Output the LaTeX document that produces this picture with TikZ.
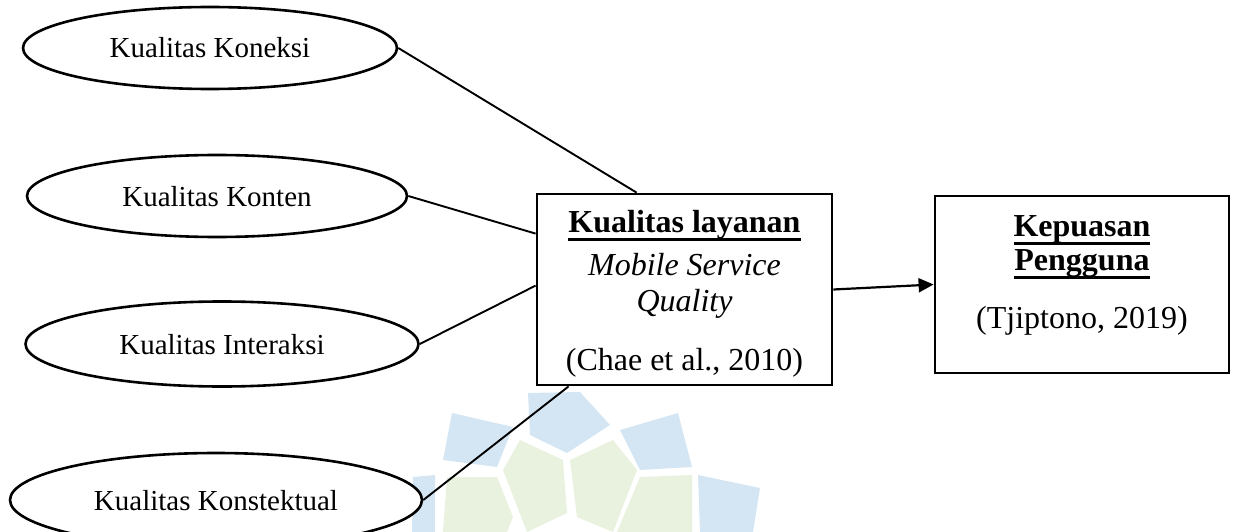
\documentclass[tikz,border=0pt]{standalone}
\usepackage{fontspec}
\setmainfont{Liberation Serif}
\usetikzlibrary{shapes.geometric,arrows.meta}

\definecolor{wmbiru}{HTML}{D4E6F4}
\definecolor{wmhijau}{HTML}{E9F1DF}

\newsavebox\garisbox
\newcommand{\garis}[1]{\sbox\garisbox{#1}\rlap{\rule[-9pt]{\wd\garisbox}{3pt}}\usebox\garisbox}

\tikzset{
  dimensi/.style={draw, ellipse, fill=white, line width=2.6pt, inner sep=0pt,
    text height=20pt, text depth=0pt, font=\fontsize{29}{34}\selectfont},
  kotak/.style={draw, rectangle, line width=2.8pt, inner sep=0pt},
  isikotak/.style={align=center, anchor=north, inner sep=0pt},
  hubung/.style={line width=1.9pt},
}

\begin{document}
\begin{tikzpicture}[x=1pt, y=-1pt]
    \useasboundingbox (0,0) rectangle (1237,532);

    \fill[wmbiru] (452,413) -- (513,427) -- (497,467) -- (443,460) -- cycle;
    \fill[wmbiru] (528,393) -- (580,392) -- (610,425) -- (567,453) -- (530,435) -- cycle;
    \fill[wmbiru] (620,430) -- (678,413) -- (692,467) -- (640,470) -- cycle;
    \fill[wmbiru] (698,475) -- (760,488) -- (753,532) -- (700,532) -- cycle;
    \fill[wmbiru] (413,477) -- (435,475) -- (435,532) -- (412,532) -- cycle;
    \fill[wmhijau] (520,440) -- (563,460) -- (567,513) -- (527,532) -- (503,470) -- cycle;
    \fill[wmhijau] (570,460) -- (613,440) -- (637,470) -- (613,532) -- (577,517) -- cycle;
    \fill[wmhijau] (447,477) -- (497,477) -- (513,517) -- (507,532) -- (443,532) -- cycle;
    \fill[wmhijau] (640,477) -- (692,475) -- (692,532) -- (617,532) -- cycle;

    \node[dimensi, minimum width=374pt, minimum height=82pt] (koneksi) at (210,48) {Kualitas Koneksi};
    \node[dimensi, minimum width=380pt, minimum height=82pt] (konten) at (217,196) {Kualitas Konten};
    \node[dimensi, minimum width=393pt, minimum height=85pt] (interaksi) at (222,344) {Kualitas Interaksi};
    \node[dimensi, minimum width=412pt, minimum height=94pt] (kontekstual) at (216,500) {Kualitas Konstektual};

    \node[kotak, minimum width=295pt, minimum height=191pt] (layanan) at (684.5,289.5) {};
    \node[kotak, minimum width=294pt, minimum height=177pt] (kepuasan) at (1082,284.5) {};

    \node[isikotak, font=\fontsize{32}{36}\selectfont] (layanan-isi) at (684.5,208)
      {\rule{0pt}{24pt}\garis{\textbf{Kualitas layanan}}\\[7pt]
       \textit{Mobile Service}\\ \textit{Quality}\\[23pt]
       (Chae et al., 2010)};
    \node[isikotak, font=\fontsize{32}{34}\selectfont] (kepuasan-isi) at (1082,212)
      {\rule{0pt}{24pt}\garis{\textbf{Kepuasan}}\\
       \garis{\textbf{Pengguna}}\\[24pt]
       (Tjiptono, 2019)};

    \coordinate (masuk-a) at ([xshift=101pt]layanan.north west);
    \coordinate (masuk-b) at ([yshift=-41pt]layanan.north west);
    \coordinate (masuk-c) at ([yshift=-93pt]layanan.north west);
    \coordinate (masuk-d) at ([xshift=33pt]layanan.south west);

    \draw[hubung] (koneksi.east) -- (masuk-a);
    \draw[hubung] (konten.east) -- (masuk-b);
    \draw[hubung] (interaksi.east) -- (masuk-c);
    \draw[hubung] (kontekstual.east) -- (masuk-d);
    \draw[line width=2.2pt, -{Triangle[length=15pt, width=14pt]}] (layanan.east) -- (kepuasan.west);
\end{tikzpicture}
\end{document}
